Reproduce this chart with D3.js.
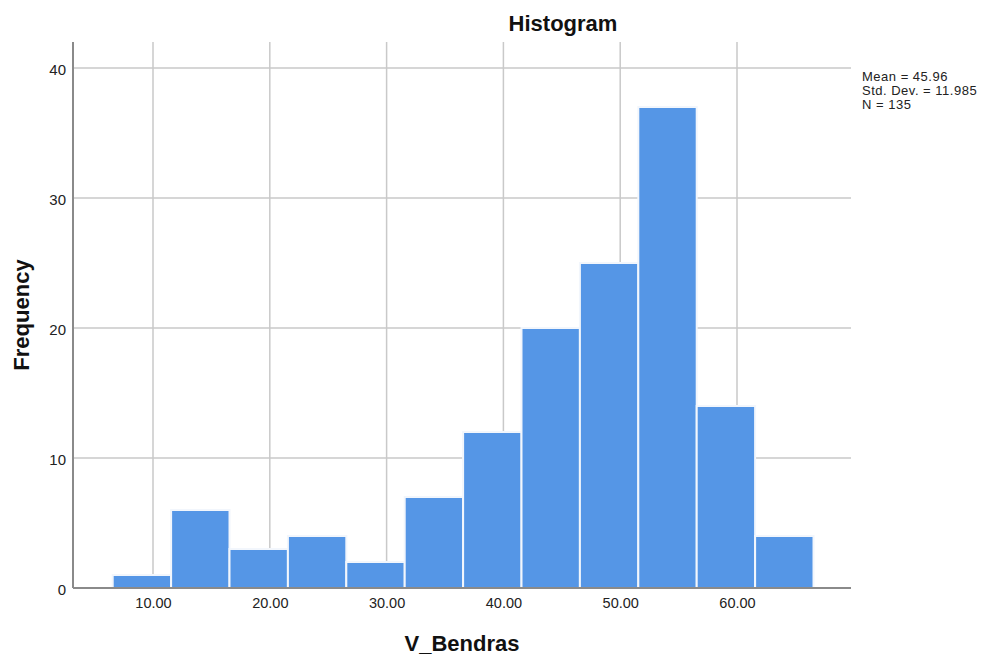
<!DOCTYPE html>
<html><head><meta charset="utf-8">
<script src="https://cdn.jsdelivr.net/npm/d3@7"></script>
<style>body{margin:0;background:#fff}svg{display:block}text{font-family:Arial,"Liberation Sans",sans-serif}</style>
</head><body>
<svg id="c" width="988" height="658"></svg>
<script>
const binStarts = [6.55, 11.55, 16.55, 21.55, 26.55, 31.55, 36.55, 41.55, 46.55, 51.55, 56.55, 61.55];
const binWidth = 5;
const frequencies = [1, 6, 3, 4, 2, 7, 12, 20, 25, 37, 14, 4];
const xTicks = [10, 20, 30, 40, 50, 60];
const yTicks = [0, 10, 20, 30, 40];
const statsLines = ["Mean = 45.96", "Std. Dev. = 11.985", "N = 135"];

const svg = d3.select("#c");
const L = 73, R = 851, T = 42, B = 588;
const x = d3.scaleLinear().domain([3.15, 69.76]).range([L, R]);
const y = d3.scaleLinear().domain([0, 42]).range([B, T]);

// gridlines
svg.append("g").selectAll("line").data(xTicks).join("line")
  .attr("x1", d => x(d)).attr("x2", d => x(d)).attr("y1", T).attr("y2", B)
  .attr("stroke", "#c9c9c9").attr("stroke-width", 1.5);
svg.append("g").selectAll("line").data(yTicks.filter(d => d > 0)).join("line")
  .attr("x1", L).attr("x2", R).attr("y1", d => y(d)).attr("y2", d => y(d))
  .attr("stroke", "#c9c9c9").attr("stroke-width", 1.5);

// bars
svg.append("g").selectAll("rect").data(frequencies).join("rect")
  .attr("x", (d, i) => x(binStarts[i]))
  .attr("width", (d, i) => x(binStarts[i] + binWidth) - x(binStarts[i]))
  .attr("y", d => y(d))
  .attr("height", d => y(0) - y(d))
  .attr("fill", "#5596e6")
  .attr("stroke", "#f2f6fc").attr("stroke-width", 2);

// axes lines
svg.append("line").attr("x1", L).attr("x2", L).attr("y1", T).attr("y2", B)
  .attr("stroke", "#8a8a8a").attr("stroke-width", 2);
svg.append("line").attr("x1", L).attr("x2", R).attr("y1", B).attr("y2", B)
  .attr("stroke", "#8a8a8a").attr("stroke-width", 2);

// axes via d3 (labels only)
const xAxis = svg.append("g").attr("transform", `translate(0,${B})`)
  .call(d3.axisBottom(x).tickValues(xTicks).tickFormat(d3.format(".2f")).tickSize(0).tickPadding(10));
xAxis.select(".domain").remove();
xAxis.selectAll("text").attr("font-size", 14.5).attr("fill", "#222").attr("font-family", "Arial, 'Liberation Sans', sans-serif");

const yAxis = svg.append("g").attr("transform", `translate(${L},0)`)
  .call(d3.axisLeft(y).tickValues(yTicks).tickFormat(d3.format("d")).tickSize(0).tickPadding(7));
yAxis.select(".domain").remove();
yAxis.selectAll("text").attr("font-size", 15).attr("dy", "0.45em").attr("fill", "#222").attr("font-family", "Arial, 'Liberation Sans', sans-serif");

// title
svg.append("text").attr("x", 563).attr("y", 31).attr("text-anchor", "middle")
  .attr("font-size", 22).attr("font-weight", "bold").attr("fill", "#111").text("Histogram");
// x label
svg.append("text").attr("x", 462).attr("y", 651).attr("text-anchor", "middle")
  .attr("font-size", 22).attr("font-weight", "bold").attr("fill", "#111").text("V_Bendras");
// y label
svg.append("text").attr("transform", `translate(28.5,${(T + B) / 2}) rotate(-90)`).attr("text-anchor", "middle")
  .attr("font-size", 22).attr("font-weight", "bold").attr("fill", "#111").text("Frequency");

// stats
svg.append("g").selectAll("text").data(statsLines).join("text")
  .attr("x", 862).attr("y", (d, i) => 81 + i * 14)
  .attr("font-size", 13).attr("letter-spacing", 0.5).attr("fill", "#222").text(d => d);
</script>
</body></html>
